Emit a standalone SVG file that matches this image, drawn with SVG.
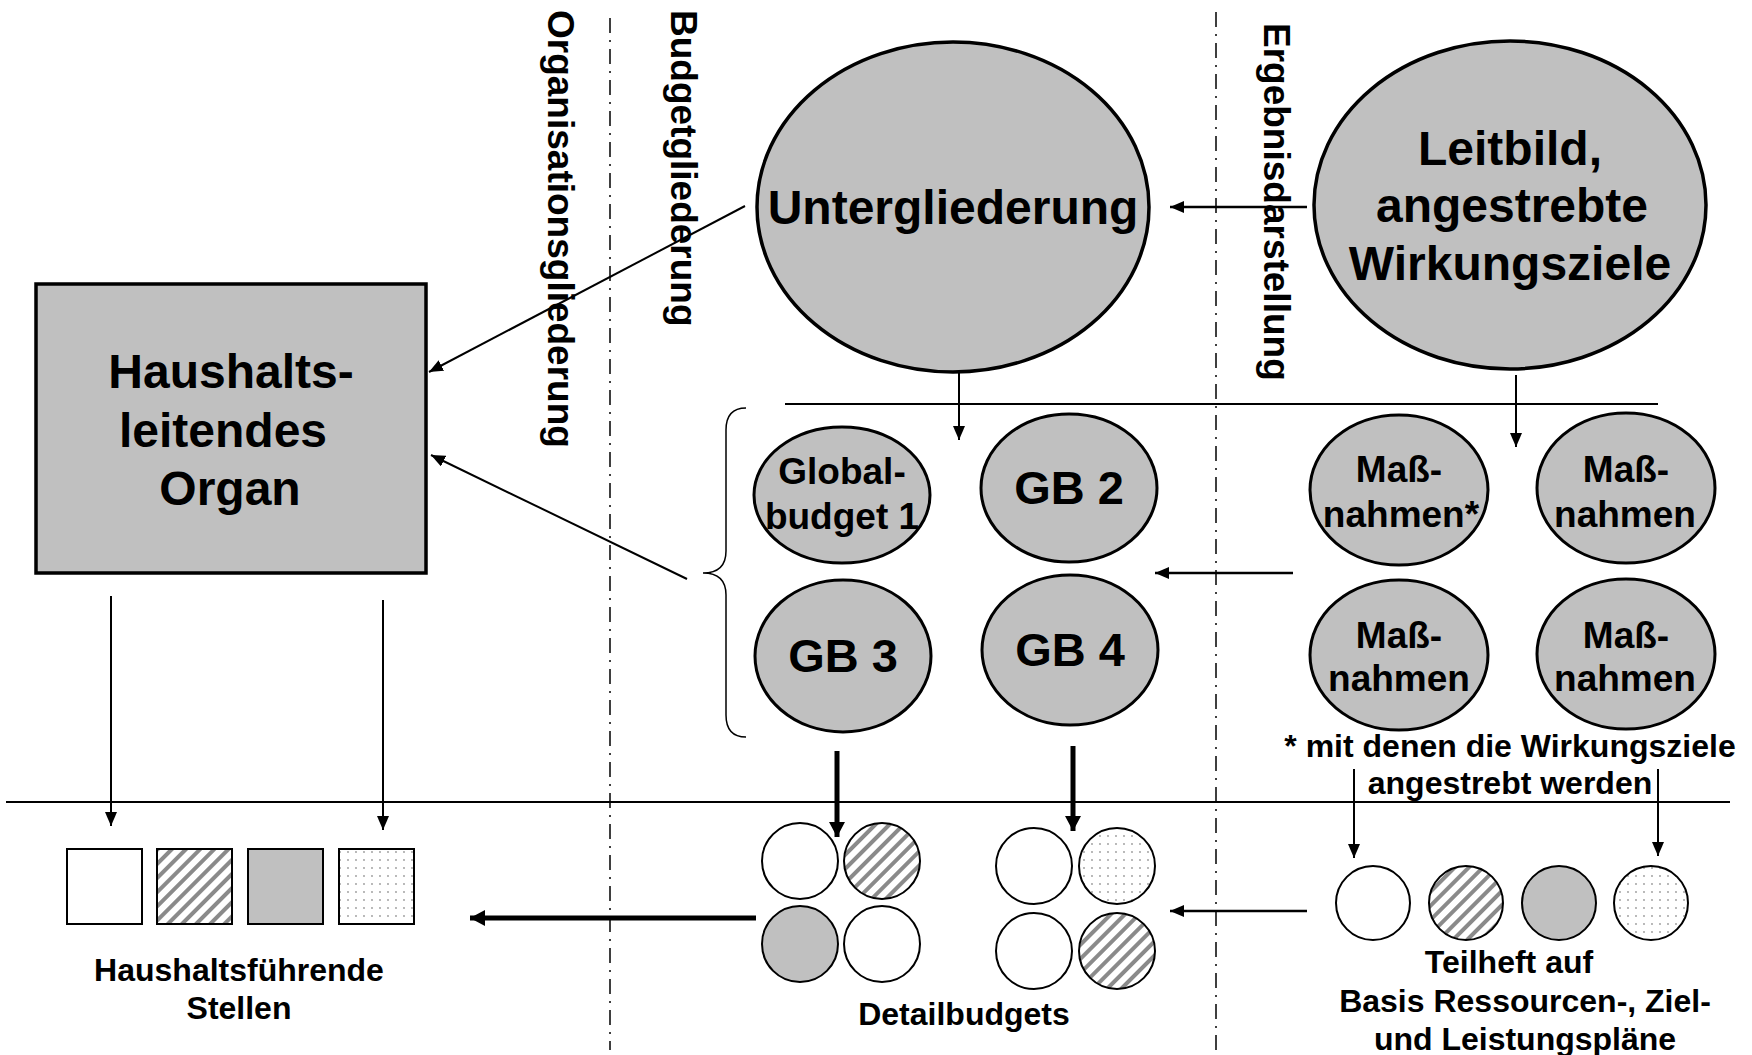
<svg xmlns="http://www.w3.org/2000/svg" width="1752" height="1055" viewBox="0 0 1752 1055">
<style>
text{font-family:"Liberation Sans",Arial,sans-serif;font-weight:bold;fill:#000;text-anchor:middle}
.t48{font-size:48px}
.gbt{font-size:47px}
.t36{font-size:37px}
.t31{font-size:32px}
.vt{font-size:37px;text-anchor:start}
.big{fill:#c0c0c0;stroke:#000;stroke-width:3.5}
.gb{fill:#c0c0c0;stroke:#000;stroke-width:3}
.sm{stroke:#000;stroke-width:2}
.ln{stroke:#000;stroke-width:2;fill:none}
.th{stroke:#000;stroke-width:5;fill:none}
.dd{stroke:#000;stroke-width:1.5;stroke-dasharray:15 7 2 7;fill:none}
</style>
<defs>
<pattern id="hatch" patternUnits="userSpaceOnUse" width="10" height="10" patternTransform="rotate(45)">
<rect width="10" height="10" fill="#fff"/>
<line x1="2" y1="0" x2="2" y2="10" stroke="#8a8a8a" stroke-width="4"/>
</pattern>
<pattern id="dots" patternUnits="userSpaceOnUse" width="8" height="8">
<rect width="8" height="8" fill="#fff"/>
<circle cx="4" cy="4" r="0.9" fill="#999"/>
</pattern>
<marker id="a" viewBox="0 0 14 12" refX="14" refY="6" markerWidth="14" markerHeight="12" markerUnits="userSpaceOnUse" orient="auto"><path d="M0,0 L14,6 L0,12 z" fill="#000"/></marker>
<marker id="ab" viewBox="0 0 15 16" refX="15" refY="8" markerWidth="15" markerHeight="16" markerUnits="userSpaceOnUse" orient="auto"><path d="M0,0 L15,8 L0,16 z" fill="#000"/></marker>
</defs>
<rect width="1752" height="1055" fill="#fff"/>

<g id="dividers">
<line class="dd" x1="610" y1="18" x2="610" y2="1050"/>
<line class="dd" x1="1216" y1="12" x2="1216" y2="1050"/>
<line class="ln" x1="785" y1="404" x2="1658" y2="404"/>
<line class="ln" x1="6" y1="802" x2="1730" y2="802"/>
</g>

<g id="labels-vertical">
<text class="vt" transform="translate(548,10) rotate(90)">Organisationsgliederung</text>
<text class="vt" transform="translate(671,10) rotate(90)">Budgetgliederung</text>
<text class="vt" transform="translate(1264,23) rotate(90)">Ergebnisdarstellung</text>
</g>

<g id="haushaltsleitendes-organ">
<rect x="36" y="284" width="390" height="289" class="big"/>
<text class="t48" x="231" y="388">Haushalts-</text>
<text class="t48" x="223" y="447">leitendes</text>
<text class="t48" x="230" y="505">Organ</text>
</g>

<g id="untergliederung">
<ellipse cx="953" cy="207" rx="196" ry="165" class="big"/>
<text class="t48" x="953" y="224">Untergliederung</text>
</g>

<g id="leitbild">
<ellipse cx="1510" cy="205" rx="196" ry="164" class="big"/>
<text class="t48" x="1510" y="165">Leitbild,</text>
<text class="t48" x="1512" y="222">angestrebte</text>
<text class="t48" x="1510" y="280">Wirkungsziele</text>
</g>

<g id="brace">
<path class="ln" style="stroke-width:1.5" d="M746,408 Q726,408 726,430 L726,551 Q726,573 703,573 Q726,573 726,595 L726,715 Q726,737 746,737"/>
</g>

<g id="gb1">
<ellipse cx="842" cy="495" rx="88" ry="68" class="gb"/>
<text class="t36" x="842" y="484">Global-</text>
<text class="t36" x="842" y="529">budget 1</text>
</g>
<g id="gb2">
<ellipse cx="1069" cy="488" rx="88" ry="74" class="gb"/>
<text class="gbt" x="1069" y="504">GB 2</text>
</g>
<g id="gb3">
<ellipse cx="843" cy="656" rx="88" ry="76" class="gb"/>
<text class="gbt" x="843" y="672">GB 3</text>
</g>
<g id="gb4">
<ellipse cx="1070" cy="650" rx="88" ry="75" class="gb"/>
<text class="gbt" x="1070" y="666">GB 4</text>
</g>

<g id="massnahmen1">
<ellipse cx="1399" cy="490" rx="89" ry="75" class="gb"/>
<text class="t36" x="1399" y="482">Maß-</text>
<text class="t36" x="1401" y="527">nahmen*</text>
</g>
<g id="massnahmen2">
<ellipse cx="1626" cy="488" rx="89" ry="75" class="gb"/>
<text class="t36" x="1626" y="482">Maß-</text>
<text class="t36" x="1625" y="527">nahmen</text>
</g>
<g id="massnahmen3">
<ellipse cx="1399" cy="655" rx="89" ry="75" class="gb"/>
<text class="t36" x="1399" y="648">Maß-</text>
<text class="t36" x="1399" y="691">nahmen</text>
</g>
<g id="massnahmen4">
<ellipse cx="1626" cy="654" rx="89" ry="75" class="gb"/>
<text class="t36" x="1626" y="648">Maß-</text>
<text class="t36" x="1625" y="691">nahmen</text>
</g>

<g id="footnote">
<text class="t31" x="1510" y="757">* mit denen die Wirkungsziele</text>
<text class="t31" x="1510" y="794">angestrebt werden</text>
</g>

<g id="haushaltsfuehrende-stellen">
<rect x="67" y="849" width="75" height="75" fill="#fff" class="sm"/>
<rect x="157" y="849" width="75" height="75" fill="url(#hatch)" class="sm"/>
<rect x="248" y="849" width="75" height="75" fill="#c0c0c0" class="sm"/>
<rect x="339" y="849" width="75" height="75" fill="url(#dots)" class="sm"/>
<text class="t31" x="239" y="981">Haushaltsführende</text>
<text class="t31" x="239" y="1019">Stellen</text>
</g>

<g id="detailbudgets">
<ellipse cx="800" cy="861" rx="38" ry="38" fill="#fff" class="sm"/>
<ellipse cx="882" cy="861" rx="38" ry="38" fill="url(#hatch)" class="sm"/>
<ellipse cx="800" cy="944" rx="38" ry="38" fill="#c0c0c0" class="sm"/>
<ellipse cx="882" cy="944" rx="38" ry="38" fill="#fff" class="sm"/>
<ellipse cx="1034" cy="866" rx="38" ry="38" fill="#fff" class="sm"/>
<ellipse cx="1117" cy="866" rx="38" ry="38" fill="url(#dots)" class="sm"/>
<ellipse cx="1034" cy="951" rx="38" ry="38" fill="#fff" class="sm"/>
<ellipse cx="1117" cy="951" rx="38" ry="38" fill="url(#hatch)" class="sm"/>
<text class="t31" x="964" y="1025">Detailbudgets</text>
</g>

<g id="teilheft">
<ellipse cx="1373" cy="903" rx="37" ry="37" fill="#fff" class="sm"/>
<ellipse cx="1466" cy="903" rx="37" ry="37" fill="url(#hatch)" class="sm"/>
<ellipse cx="1559" cy="903" rx="37" ry="37" fill="#c0c0c0" class="sm"/>
<ellipse cx="1651" cy="903" rx="37" ry="37" fill="url(#dots)" class="sm"/>
<text class="t31" x="1509" y="973">Teilheft auf</text>
<text class="t31" x="1525" y="1012">Basis Ressourcen-, Ziel-</text>
<text class="t31" x="1525" y="1050">und Leistungspläne</text>
</g>

<g id="connectors">
<line class="ln" style="stroke-width:2.5" x1="1307" y1="207" x2="1170" y2="207" marker-end="url(#a)"/>
<line class="ln" x1="745" y1="206" x2="429" y2="372" marker-end="url(#a)"/>
<line class="ln" x1="687" y1="579" x2="431" y2="455" marker-end="url(#a)"/>
<line class="ln" x1="959" y1="372" x2="959" y2="440" marker-end="url(#a)"/>
<line class="ln" x1="1516" y1="375" x2="1516" y2="447" marker-end="url(#a)"/>
<line class="ln" style="stroke-width:2.5" x1="1293" y1="573" x2="1155" y2="573" marker-end="url(#a)"/>
<line class="ln" x1="1354" y1="769" x2="1354" y2="858" marker-end="url(#a)"/>
<line class="ln" x1="1658" y1="769" x2="1658" y2="856" marker-end="url(#a)"/>
<line class="th" x1="837" y1="751" x2="837" y2="837" marker-end="url(#ab)"/>
<line class="th" x1="1073" y1="746" x2="1073" y2="831" marker-end="url(#ab)"/>
<line class="ln" x1="111" y1="596" x2="111" y2="826" marker-end="url(#a)"/>
<line class="ln" x1="383" y1="600" x2="383" y2="830" marker-end="url(#a)"/>
<line class="th" x1="756" y1="918" x2="470" y2="918" marker-end="url(#ab)"/>
<line class="ln" style="stroke-width:2.5" x1="1307" y1="911" x2="1170" y2="911" marker-end="url(#a)"/>
</g>
</svg>
